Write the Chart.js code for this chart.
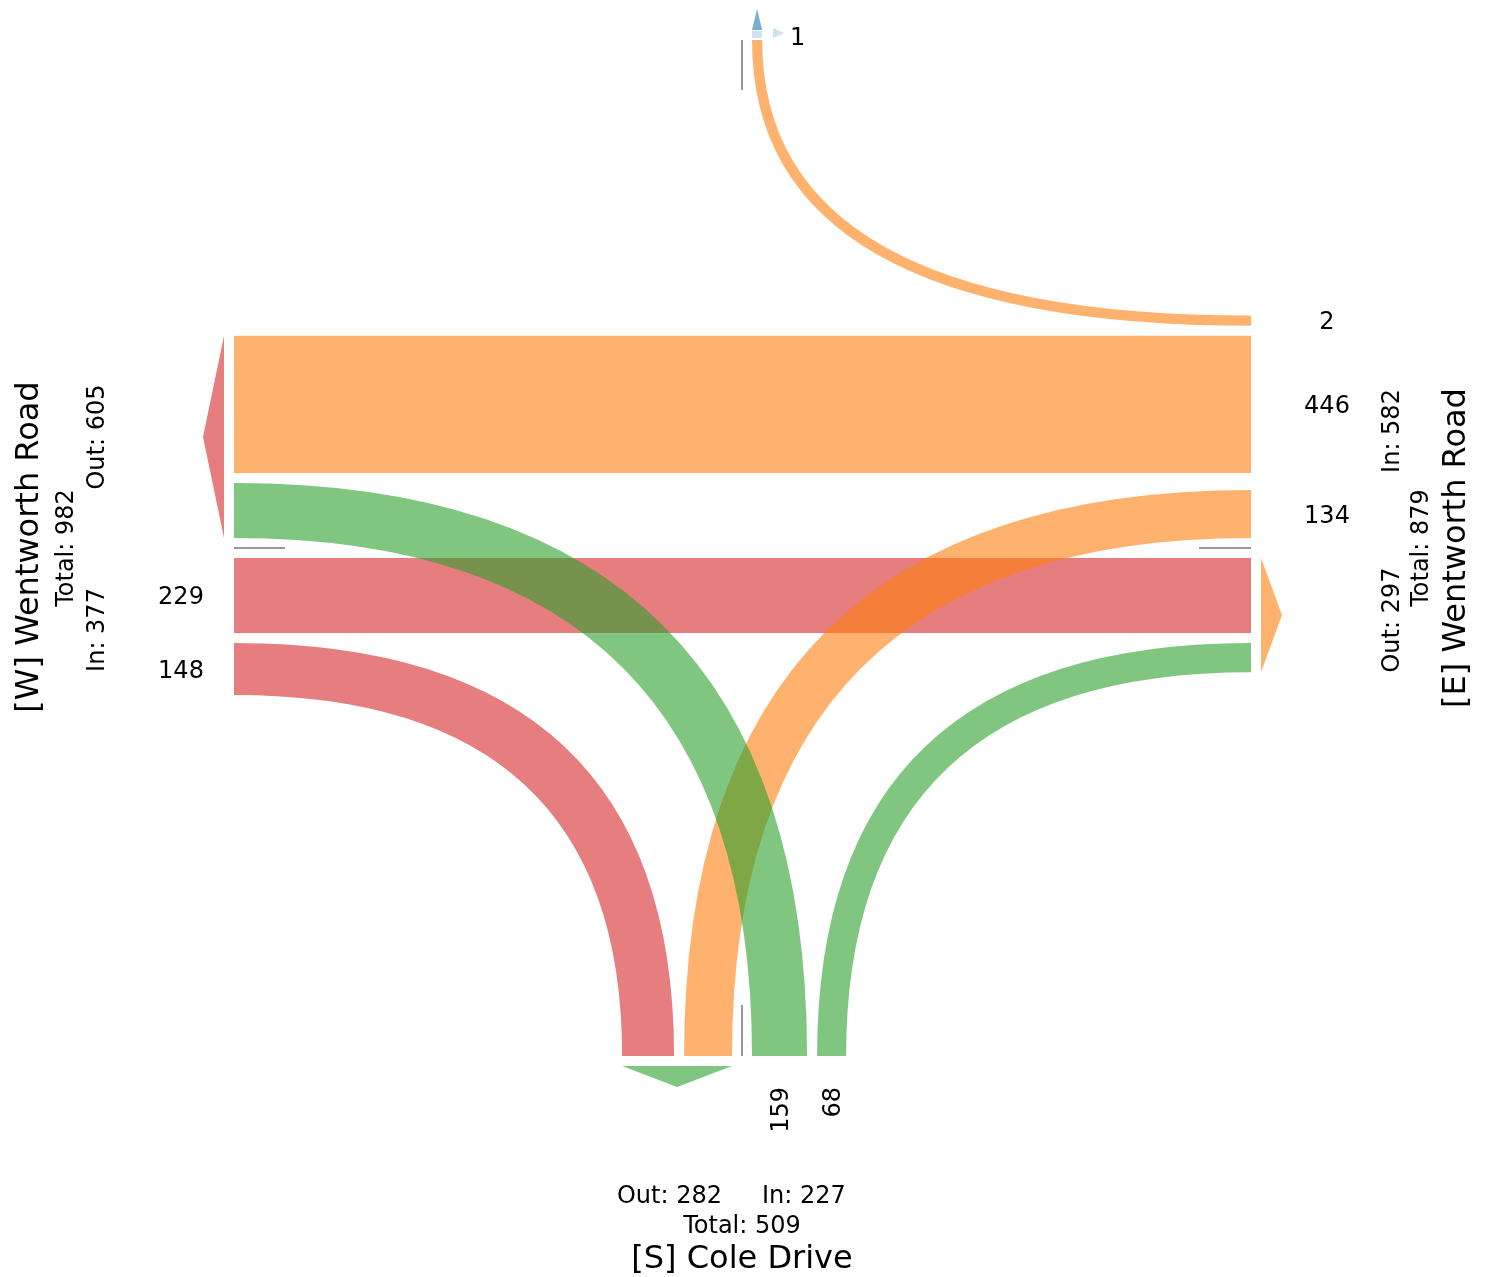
<!DOCTYPE html>
<html>
<head>
<meta charset="utf-8">
<title>Turning movements</title>
<script src="https://cdn.jsdelivr.net/npm/chart.js@4.4.1/dist/chart.umd.min.js"></script>
<style>
  html, body { margin: 0; padding: 0; background: #fff; }
  #wrap { width: 1486px; height: 1277px; }
</style>
</head>
<body>
<div id="wrap"><canvas id="flows" width="1486" height="1277"></canvas></div>
<script>
// turning movement counts, one entry per movement
const approaches = ['W', 'E', 'S', 'N'];
const streetNames = ['[W] Wentworth Road', '[E] Wentworth Road', '[S] Cole Drive', ''];
const flowFrom = ['W', 'W', 'E', 'E', 'E', 'S', 'S'];
const flowTo = ['E', 'S', 'W', 'S', 'N', 'W', 'E'];
const flowCounts = [229, 148, 446, 134, 2, 159, 68];
const northUnassigned = 1;

// colours per origin approach
const colours = { W: '214,39,40', E: '255,127,14', S: '44,160,44', N: '31,119,180' };
const rgba = (a, al) => 'rgba(' + colours[a] + ',' + al + ')';

// layout (scale units)
const edge = { W: 234, E: 1251, S: 1056, N: 40 };
const sepY = 548, sepX = 742, gap = 10;
const bandWidth = v => 9.6 + 0.286 * v;
const textShift = 2.5;

// stacking of each side, nearest the separator first
const stacks = [
    { at: 'W', kind: 'to', others: ['S', 'E'], dir: -1 },
    { at: 'W', kind: 'from', others: ['E', 'S'], dir: 1 },
    { at: 'E', kind: 'from', others: ['S', 'W', 'N'], dir: -1 },
    { at: 'E', kind: 'to', others: ['W', 'S'], dir: 1 },
    { at: 'S', kind: 'to', others: ['E', 'W'], dir: -1 },
    { at: 'S', kind: 'from', others: ['W', 'E'], dir: 1 },
    { at: 'N', kind: 'to', others: ['E'], dir: 1 }
];

const horiz = a => a === 'W' || a === 'E';
const sum = arr => arr.reduce((s, v) => s + v, 0);
const inOf = a => sum(flowCounts.filter((c, k) => flowFrom[k] === a));
const outOf = a => sum(flowCounts.filter((c, k) => flowTo[k] === a));

function layout() {
    const ends = flowCounts.map(() => ({}));
    stacks.forEach(s => {
        let p = (horiz(s.at) ? sepY : sepX) + s.dir * gap;
        s.others.forEach(o => {
            const i = flowCounts.findIndex((c, k) => s.kind === 'to'
                ? (flowTo[k] === s.at && flowFrom[k] === o)
                : (flowFrom[k] === s.at && flowTo[k] === o));
            if (i < 0) return;
            let a, b;
            if (s.at === 'E' && o === 'W' && ends[i].W) {
                [a, b] = ends[i].W;   // straight through keeps its west position
            } else {
                a = p;
                b = p + s.dir * bandWidth(flowCounts[i]);
            }
            ends[i][s.at] = [a, b];
            p = b + s.dir * gap;
        });
    });
    return ends;
}

const flowPlugin = {
    id: 'flowPlugin',
    afterDraw(chart) {
        const ctx = chart.ctx;
        const xs = chart.scales.x, ys = chart.scales.y;
        const X = v => xs.getPixelForValue(v), Y = v => ys.getPixelForValue(v);
        const ends = layout();
        ctx.save();

        // bands
        flowCounts.forEach((c, i) => {
            const f = flowFrom[i], t = flowTo[i];
            ctx.beginPath();
            if (horiz(f) && horiz(t)) {
                const [a, b] = ends[i].W;
                const top = Math.min(a, b), bot = Math.max(a, b);
                ctx.rect(X(edge.W), Y(top), X(edge.E) - X(edge.W), Y(bot) - Y(top));
            } else {
                const h = horiz(f) ? f : t, v = horiz(f) ? t : f;
                const hx = edge[h], vy = edge[v];
                const hy = ends[i][h], vx = ends[i][v];
                const hyOut = Math.abs(hy[0] - vy) > Math.abs(hy[1] - vy) ? hy[0] : hy[1];
                const hyIn = hyOut === hy[0] ? hy[1] : hy[0];
                const vxOut = Math.abs(vx[0] - hx) > Math.abs(vx[1] - hx) ? vx[0] : vx[1];
                const vxIn = vxOut === vx[0] ? vx[1] : vx[0];
                // quadratic curves with the control point at the corner
                ctx.moveTo(X(hx), Y(hyOut));
                ctx.quadraticCurveTo(X(vxOut), Y(hyOut), X(vxOut), Y(vy));
                ctx.lineTo(X(vxIn), Y(vy));
                ctx.quadraticCurveTo(X(vxIn), Y(hyIn), X(hx), Y(hyIn));
                ctx.closePath();
            }
            ctx.fillStyle = rgba(f, 0.6);
            ctx.fill();
        });

        // separators
        ctx.strokeStyle = '#999999';
        ctx.lineWidth = 2;
        ctx.beginPath();
        ctx.moveTo(X(edge.W), Y(sepY)); ctx.lineTo(X(edge.W + 51), Y(sepY));
        ctx.moveTo(X(edge.E - 52), Y(sepY)); ctx.lineTo(X(edge.E), Y(sepY));
        ctx.moveTo(X(sepX), Y(edge.S - 51)); ctx.lineTo(X(sepX), Y(edge.S));
        ctx.moveTo(X(sepX), Y(edge.N)); ctx.lineTo(X(sepX), Y(edge.N + 50));
        ctx.stroke();

        // exit arrows over each "out" group
        const dirs = { W: [-1, 0], E: [1, 0], S: [0, 1], N: [0, -1] };
        approaches.forEach(a => {
            const ids = flowCounts.map((c, k) => k).filter(k => flowTo[k] === a);
            if (!ids.length) return;
            const vals = ids.flatMap(k => ends[k][a]);
            const lo = Math.min(...vals), hi = Math.max(...vals), mid = (lo + hi) / 2;
            const [dx, dy] = dirs[a];
            const base = edge[a] + (dx + dy) * gap, tip = base + (dx + dy) * 21;
            ctx.beginPath();
            if (horiz(a)) {
                ctx.moveTo(X(base), Y(lo)); ctx.lineTo(X(tip), Y(mid)); ctx.lineTo(X(base), Y(hi));
            } else {
                ctx.moveTo(X(lo), Y(base)); ctx.lineTo(X(mid), Y(tip)); ctx.lineTo(X(hi), Y(base));
            }
            ctx.closePath();
            ctx.fillStyle = rgba(a, 0.6);
            ctx.fill();
        });

        // north: unassigned stub
        const nx0 = sepX + gap, nx1 = nx0 + bandWidth(northUnassigned);
        ctx.fillStyle = rgba('N', 0.22);
        ctx.fillRect(X(nx0), Y(31), X(nx1) - X(nx0), Y(38) - Y(31));
        ctx.beginPath();
        ctx.moveTo(X(773), Y(28)); ctx.lineTo(X(784), Y(33)); ctx.lineTo(X(773), Y(38));
        ctx.closePath();
        ctx.fill();

        // count labels
        ctx.fillStyle = '#000';
        ctx.font = '24px "DejaVu Sans"';
        ctx.textBaseline = 'middle';
        flowCounts.forEach((c, i) => {
            const f = flowFrom[i];
            const e = ends[i][f];
            const mid = (e[0] + e[1]) / 2;
            if (f === 'W') {
                ctx.textAlign = 'center';
                ctx.fillText(String(c), X(181), Y(mid + textShift));
            } else if (f === 'E') {
                ctx.textAlign = 'center';
                ctx.fillText(String(c), X(1327), Y(mid + textShift));
            } else if (f === 'S') {
                ctx.save();
                ctx.translate(X(mid + textShift), Y(1087));
                ctx.rotate(-Math.PI / 2);
                ctx.textAlign = 'right';
                ctx.fillText(String(c), 0, 0);
                ctx.restore();
            }
        });
        ctx.textAlign = 'left';
        ctx.fillText(String(northUnassigned), X(790), Y(36 + textShift));

        // approach summaries
        const vtext = (txt, x, y, size) => {
            ctx.save();
            ctx.font = size + 'px "DejaVu Sans"';
            ctx.translate(X(x + textShift), Y(y));
            ctx.rotate(-Math.PI / 2);
            ctx.textAlign = 'center';
            ctx.fillText(txt, 0, 0);
            ctx.restore();
        };
        vtext(streetNames[0], 27, 547, 32);
        vtext('Total: ' + (inOf('W') + outOf('W')), 64, 548, 24);
        vtext('Out: ' + outOf('W'), 95, 437, 24);
        vtext('In: ' + inOf('W'), 95, 630, 24);

        vtext(streetNames[1], 1454, 548, 32);
        vtext('Total: ' + (inOf('E') + outOf('E')), 1419, 548, 24);
        vtext('In: ' + inOf('E'), 1390, 431, 24);
        vtext('Out: ' + outOf('E'), 1390, 620, 24);

        ctx.font = '24px "DejaVu Sans"';
        ctx.textAlign = 'right';
        ctx.fillText('Out: ' + outOf('S'), X(sepX - 20), Y(1194 + textShift));
        ctx.textAlign = 'left';
        ctx.fillText('In: ' + inOf('S'), X(sepX + 20), Y(1194 + textShift));
        ctx.textAlign = 'center';
        ctx.fillText('Total: ' + (inOf('S') + outOf('S')), X(sepX), Y(1224 + textShift));
        ctx.font = '32px "DejaVu Sans"';
        ctx.fillText(streetNames[2], X(sepX), Y(1257 + textShift));

        ctx.restore();
    }
};

const chart = new Chart(document.getElementById('flows'), {
    type: 'scatter',
    data: { datasets: [{ data: [] }] },
    options: {
        responsive: false,
        animation: false,
        layout: { padding: 0 },
        scales: {
            x: { type: 'linear', min: 0, max: 1486, display: false },
            y: { type: 'linear', min: 0, max: 1277, reverse: true, display: false }
        },
        plugins: { legend: { display: false }, tooltip: { enabled: false } }
    },
    plugins: [flowPlugin]
});
</script>
</body>
</html>
